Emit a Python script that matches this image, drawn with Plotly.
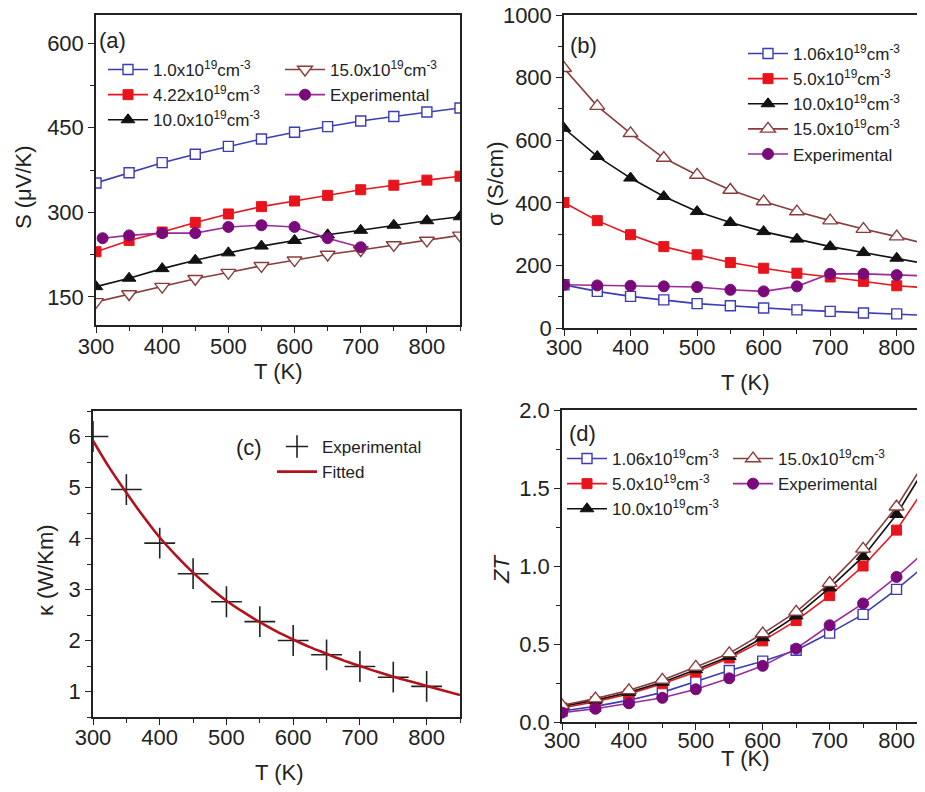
import plotly.graph_objects as go

# ---------------- data ----------------
T = [300, 350, 400, 450, 500, 550, 600, 650, 700, 750, 800, 850]

# (a) Seebeck coefficient S (uV/K)
S_n1 = [352, 370, 388, 403, 417, 430, 442, 452, 462, 470, 478, 485]
S_n422 = [230, 250, 265, 282, 297, 310, 320, 330, 340, 348, 357, 364]
S_n10 = [168, 183, 200, 215, 228, 240, 250, 260, 268, 277, 285, 292]
S_n15 = [141, 155, 168, 182, 193, 205, 215, 225, 233, 242, 250, 259]
T_exp_a = [310, 350, 400, 450, 500, 550, 600, 650, 700]
S_exp = [254, 259, 263, 263, 274, 277, 274, 254, 238]

# (b) electrical conductivity sigma (S/cm)
sig_n106 = [138, 117, 101, 90, 78, 71, 64, 58, 53, 48, 45, 40]
sig_n5 = [401, 343, 298, 260, 234, 209, 191, 175, 163, 149, 135, 128]
sig_n10 = [638, 548, 479, 420, 372, 337, 308, 284, 260, 241, 223, 203]
sig_n15 = [830, 709, 622, 543, 489, 441, 404, 372, 343, 316, 292, 266]
sig_exp = [138, 136, 135, 133, 131, 122, 117, 133, 173, 173, 169, 166]

# (c) thermal conductivity kappa (W/Km)
T_kexp = [300, 350, 400, 450, 500, 550, 600, 650, 700, 750, 800]
k_exp = [6.0, 4.96, 3.91, 3.31, 2.76, 2.37, 2.0, 1.72, 1.49, 1.28, 1.10]
T_kfit = [300, 325, 350, 375, 400, 425, 450, 475, 500, 525, 550, 575, 600,
          625, 650, 675, 700, 725, 750, 775, 800, 825, 850]
k_fit = [5.92, 5.38, 4.90, 4.44, 4.02, 3.66, 3.33, 3.04, 2.78, 2.56, 2.36, 2.18,
         2.02, 1.87, 1.74, 1.61, 1.50, 1.39, 1.29, 1.20, 1.11, 1.02, 0.93]

# (d) figure of merit ZT
zt_n106 = [0.07, 0.10, 0.14, 0.19, 0.26, 0.33, 0.39, 0.46, 0.57, 0.69, 0.85, 1.03]
zt_n5 = [0.09, 0.13, 0.18, 0.245, 0.32, 0.41, 0.52, 0.65, 0.81, 1.00, 1.23, 1.55]
zt_n10 = [0.10, 0.14, 0.19, 0.255, 0.335, 0.42, 0.54, 0.68, 0.86, 1.06, 1.33, 1.68]
zt_n15 = [0.107, 0.15, 0.203, 0.27, 0.353, 0.44, 0.567, 0.706, 0.89, 1.11, 1.38, 1.72]
zt_exp = [0.06, 0.085, 0.12, 0.155, 0.21, 0.28, 0.36, 0.47, 0.62, 0.76, 0.93, 1.12]

# legend labels
lab_a = ["1.0x10<sup>19</sup>cm<sup>-3</sup>", "4.22x10<sup>19</sup>cm<sup>-3</sup>",
         "10.0x10<sup>19</sup>cm<sup>-3</sup>", "15.0x10<sup>19</sup>cm<sup>-3</sup>", "Experimental"]
lab_bd = ["1.06x10<sup>19</sup>cm<sup>-3</sup>", "5.0x10<sup>19</sup>cm<sup>-3</sup>",
          "10.0x10<sup>19</sup>cm<sup>-3</sup>", "15.0x10<sup>19</sup>cm<sup>-3</sup>", "Experimental"]

# ---------------- styles ----------------
BLUE = "#3c3cb4"
RED = "#e8141c"
BLACK = "#111111"
BROWN = "#8a3c3c"
PURPLE = "#7a0a7a"
PURPLE_LINE = "#9a2a9a"
AX = "#222222"
FONT = "Liberation Sans, Arial, sans-serif"

styles = [
    dict(line=dict(color=BLUE, width=1.6), marker=dict(symbol="square", size=10, color="white", line=dict(color=BLUE, width=1.4))),
    dict(line=dict(color=RED, width=1.6), marker=dict(symbol="square", size=10, color=RED, line=dict(color=RED, width=1))),
    dict(line=dict(color=BLACK, width=1.6), marker=dict(symbol="triangle-up", size=12, color=BLACK, line=dict(color=BLACK, width=1))),
    dict(line=dict(color=BROWN, width=1.6), marker=dict(symbol="triangle-up", size=13, color="white", line=dict(color=BROWN, width=1.4))),
    dict(line=dict(color=PURPLE_LINE, width=1.6), marker=dict(symbol="circle", size=11, color=PURPLE, line=dict(color=PURPLE, width=1))),
]
style_a_n15 = dict(line=dict(color=BROWN, width=1.6),
                   marker=dict(symbol="triangle-down", size=13, color="white", line=dict(color=BROWN, width=1.4)))

# two-column legends: column 1 -> series 0,1,2 ; column 2 -> series 3,4
col_of = ["c1", "c1", "c1", "c2", "c2"]

fig = go.Figure()

# ---- panel (a)
ys_a = [S_n1, S_n422, S_n10, S_n15, S_exp]
xs_a = [T, T, T, T, T_exp_a]
for i in range(5):
    st = style_a_n15 if i == 3 else styles[i]
    fig.add_trace(go.Scatter(x=xs_a[i], y=ys_a[i], mode="lines+markers", name=lab_a[i],
                             xaxis="x", yaxis="y", legend="legend" if col_of[i] == "c1" else "legend5", **st))

# ---- panel (b)
ys_b = [sig_n106, sig_n5, sig_n10, sig_n15, sig_exp]
for i in range(5):
    fig.add_trace(go.Scatter(x=T, y=ys_b[i], mode="lines+markers", name=lab_bd[i],
                             xaxis="x2", yaxis="y2", legend="legend2", **styles[i]))

# ---- panel (c)
fig.add_trace(go.Scatter(x=T_kexp, y=k_exp, mode="markers", name="Experimental", xaxis="x3", yaxis="y3",
                         legend="legend3",
                         marker=dict(symbol="cross-thin", size=22, color=BLACK, line=dict(color=AX, width=1.6))))
fig.add_trace(go.Scatter(x=T_kfit, y=k_fit, mode="lines", name="Fitted", xaxis="x3", yaxis="y3",
                         legend="legend3", line=dict(color="#b3121c", width=2.6, shape="spline")))

# ---- panel (d)
ys_d = [zt_n106, zt_n5, zt_n10, zt_n15, zt_exp]
for i in range(5):
    fig.add_trace(go.Scatter(x=T, y=ys_d[i], mode="lines+markers", name=lab_bd[i],
                             xaxis="x4", yaxis="y4", legend="legend4" if col_of[i] == "c1" else "legend6",
                             **styles[i]))

# ---------------- geometry (screen pixels; page body has an 8px offset) ----------------
W, H = 925, 792
OFF = 8


def fx(sx):
    return (sx - OFF) / W


def fy(sy):
    return 1 - (sy - OFF) / H


def dom_x(a, b):
    return [fx(a), min(fx(b), 1.0)]


def dom_y(top, bottom):
    return [fy(bottom), fy(top)]


axis_common = dict(showline=True, linecolor=AX, linewidth=1.5, mirror=True,
                   ticks="outside", ticklen=6, tickwidth=1.3, tickcolor=AX,
                   showgrid=False, zeroline=False, automargin=False, ticklabeloverflow="allow",
                   tickfont=dict(family=FONT, size=22, color=AX))
minor_out = dict(ticklen=4, ticks="outside", tickcolor=AX, tickwidth=1.2)
minor_in = dict(ticklen=4, ticks="inside", tickcolor=AX, tickwidth=1.2)
mirror_common = dict(showline=False, ticks="inside", ticklen=6, tickwidth=1.3, tickcolor=AX,
                     showticklabels=False, showgrid=False, zeroline=False, automargin=False)

XR = [300, 850]
yr = {"a": [100, 650], "b": [0, 1000], "c": [0.5, 6.5], "d": [0, 2.0]}

fig.update_layout(
    template="none",
    xaxis=dict(domain=dom_x(96, 460), range=XR, anchor="y", dtick=100, tick0=300, ticklabelstandoff=-5,
               minor=dict(dtick=50, **minor_out), **axis_common),
    yaxis=dict(domain=dom_y(15, 325), range=yr["a"], anchor="x", tickvals=[150, 300, 450, 600],
               minor=dict(tickvals=[75 * k for k in range(2, 9)], **minor_out), **axis_common),
    xaxis2=dict(domain=dom_x(564, 930), range=XR, anchor="y2", dtick=100, tick0=300, ticklabelstandoff=-7,
                minor=dict(dtick=50, **minor_out), **axis_common),
    yaxis2=dict(domain=dom_y(15, 328), range=yr["b"], anchor="x2", dtick=200,
                minor=dict(dtick=100, **minor_out), **axis_common),
    xaxis3=dict(domain=dom_x(93, 460), range=XR, anchor="y3", dtick=100, tick0=300, ticklabelstandoff=-6,
                minor=dict(dtick=50, **minor_out), **axis_common),
    yaxis3=dict(domain=dom_y(411, 717), range=yr["c"], anchor="x3", dtick=1, tick0=0,
                minor=dict(dtick=0.5, **minor_out), **axis_common),
    xaxis4=dict(domain=dom_x(562, 930), range=XR, anchor="y4", dtick=100, tick0=300, ticklabelstandoff=-8,
                minor=dict(dtick=50, **minor_out), **axis_common),
    yaxis4=dict(domain=dom_y(410, 722), range=yr["d"], anchor="x4", dtick=0.5, tickformat=".1f",
                minor=dict(dtick=0.25, **minor_out), **axis_common),
    # top / right tick axes (inward ticks, like the original frame)
    xaxis5=dict(overlaying="x", side="top", anchor="y", range=XR, dtick=100, tick0=300,
                minor=dict(dtick=50, **minor_in), **mirror_common),
    xaxis6=dict(overlaying="x2", side="top", anchor="y2", range=XR, dtick=100, tick0=300,
                minor=dict(dtick=50, **minor_in), **mirror_common),
    xaxis7=dict(overlaying="x3", side="top", anchor="y3", range=XR, dtick=100, tick0=300,
                minor=dict(dtick=50, **minor_in), **mirror_common),
    xaxis8=dict(overlaying="x4", side="top", anchor="y4", range=XR, dtick=100, tick0=300,
                minor=dict(dtick=50, **minor_in), **mirror_common),
    yaxis5=dict(overlaying="y", side="right", anchor="x", range=yr["a"], tickvals=[150, 300, 450, 600],
                minor=dict(tickvals=[75 * k for k in range(2, 9)], **minor_in), **mirror_common),
    yaxis6=dict(overlaying="y3", side="right", anchor="x3", range=yr["c"], dtick=1, tick0=0,
                minor=dict(dtick=0.5, **minor_in), **mirror_common),
)

leg_common = dict(bgcolor="rgba(0,0,0,0)", borderwidth=0, font=dict(family=FONT, size=17, color=AX),
                  xanchor="left", yanchor="top", tracegroupgap=0, itemwidth=40,
                  xref="paper", yref="paper", orientation="v")

fig.update_layout(
    legend=dict(x=fx(103), y=fy(52), **leg_common),
    legend5=dict(x=fx(280), y=fy(52), **leg_common),
    legend2=dict(x=fx(743), y=fy(36), **leg_common),
    legend3=dict(x=fx(272), y=fy(429), **leg_common),
    legend4=dict(x=fx(562), y=fy(441), **leg_common),
    legend6=dict(x=fx(728), y=fy(441), **leg_common),
)

ann_font = dict(family=FONT, size=22, color=AX)
anns = [
    dict(text="(a)", x=fx(112), y=fy(40), xanchor="center", yanchor="middle"),
    dict(text="(b)", x=fx(583), y=fy(45), xanchor="center", yanchor="middle"),
    dict(text="(c)", x=fx(249), y=fy(447), xanchor="center", yanchor="middle"),
    dict(text="(d)", x=fx(582), y=fy(433), xanchor="center", yanchor="middle"),
    dict(text="T (K)", x=fx(278), y=fy(372), xanchor="center", yanchor="middle"),
    dict(text="T (K)", x=fx(745), y=fy(382), xanchor="center", yanchor="middle"),
    dict(text="T (K)", x=fx(279), y=fy(772), xanchor="center", yanchor="middle"),
    dict(text="T (K)", x=fx(745), y=fy(758), xanchor="center", yanchor="middle"),
    dict(text="S (μV/K)", x=fx(23), y=fy(187), xanchor="center", yanchor="middle", textangle=-90),
    dict(text="σ (S/cm)", x=fx(495), y=fy(184), xanchor="center", yanchor="middle", textangle=-90),
    dict(text="κ (W/Km)", x=fx(45), y=fy(570), xanchor="center", yanchor="middle", textangle=-90),
    dict(text="<i>ZT</i>", x=fx(501), y=fy(570), xanchor="center", yanchor="middle", textangle=-90),
]
for a in anns:
    a.update(xref="paper", yref="paper", showarrow=False, font=ann_font)
fig.update_layout(annotations=anns)

fig.update_layout(width=W, height=H, margin=dict(l=0, r=0, t=0, b=0, autoexpand=False),
                  paper_bgcolor="white", plot_bgcolor="white",
                  font=dict(family=FONT, size=17, color=AX), showlegend=True)

fig.write_html("out.html")
